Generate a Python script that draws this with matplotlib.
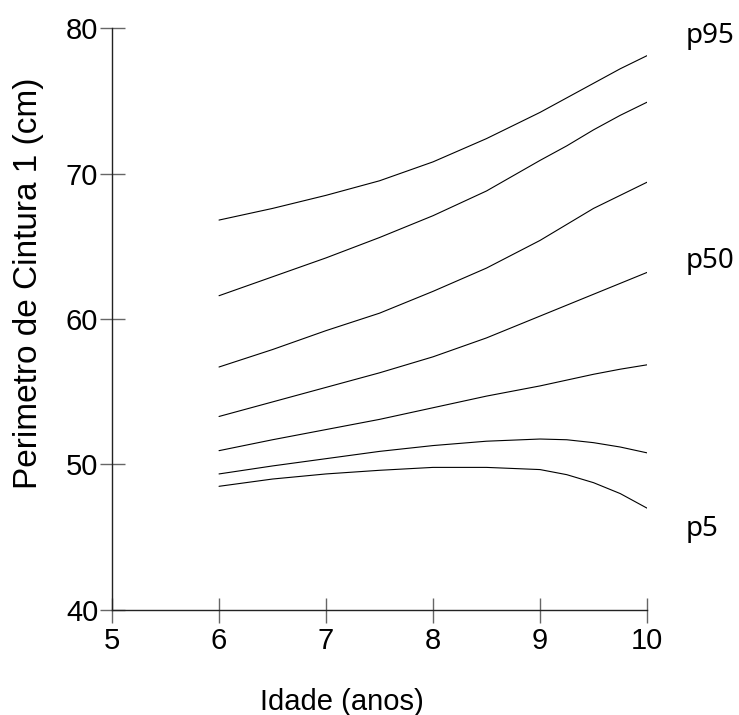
import matplotlib
matplotlib.use("Agg")
import matplotlib.pyplot as plt

ages = [6.0, 6.5, 7.0, 7.5, 8.0, 8.5, 9.0, 9.25, 9.5, 9.75, 10.0]
p95 = [66.8, 67.6, 68.5, 69.5, 70.8, 72.4, 74.2, 75.2, 76.2, 77.2, 78.1]
p85 = [61.6, 62.9, 64.2, 65.6, 67.1, 68.8, 70.9, 71.9, 73.0, 74.0, 74.9]
p75 = [56.7, 57.9, 59.2, 60.4, 61.9, 63.5, 65.4, 66.5, 67.6, 68.5, 69.4]
p50 = [53.3, 54.3, 55.3, 56.3, 57.4, 58.7, 60.2, 60.95, 61.7, 62.45, 63.2]
p25 = [50.95, 51.7, 52.4, 53.1, 53.9, 54.7, 55.4, 55.8, 56.2, 56.55, 56.85]
p15 = [49.35, 49.9, 50.4, 50.9, 51.3, 51.6, 51.75, 51.7, 51.5, 51.2, 50.8]
p5 = [48.5, 49.0, 49.35, 49.6, 49.8, 49.8, 49.65, 49.3, 48.75, 48.0, 47.0]

x_ticks = [5, 6, 7, 8, 9, 10]
y_ticks = [40, 50, 60, 70, 80]
end_labels = ["p95", "p50", "p5"]
end_label_y = [79.0, 63.5, 45.1]

fig = plt.figure(figsize=(7.39, 7.15), dpi=100)
ax = fig.add_axes([0.1516, 0.1469, 0.8755 - 0.1516, 0.9608 - 0.1469])

for s in [p95, p85, p75, p50, p25, p15, p5]:
    ax.plot(ages, s, color="black", lw=0.8, solid_capstyle="round",
            solid_joinstyle="round")

ax.set_xlim(5, 10)
ax.set_ylim(40, 80)
ax.set_xticks(x_ticks)
ax.set_yticks(y_ticks)
for sp in ["top", "right"]:
    ax.spines[sp].set_visible(False)
for sp in ["left", "bottom"]:
    ax.spines[sp].set_color("#222222")
    ax.spines[sp].set_linewidth(1.0)

ax.tick_params(axis="both", direction="inout", length=18, width=1.0,
               color="#666666", labelsize=21, labelcolor="black")
ax.tick_params(axis="y", pad=1)
ax.tick_params(axis="x", pad=3)
for lab in ax.get_xticklabels() + ax.get_yticklabels():
    lab.set_fontfamily("Liberation Sans")

ax.set_ylabel("Perimetro de Cintura 1 (cm)", fontsize=24, family="Liberation Sans")
ax.set_xlabel("Idade (anos)", fontsize=21, family="Liberation Sans")
ax.yaxis.set_label_coords(-0.127, 0.562)
ax.xaxis.set_label_coords(0.43, -0.134)

for lab, yv in zip(end_labels, end_label_y):
    ax.text(10.36, yv, lab, fontsize=20, family="Noto Sans", ha="left",
            va="baseline", clip_on=False)

fig.savefig("out.png", dpi=100)
